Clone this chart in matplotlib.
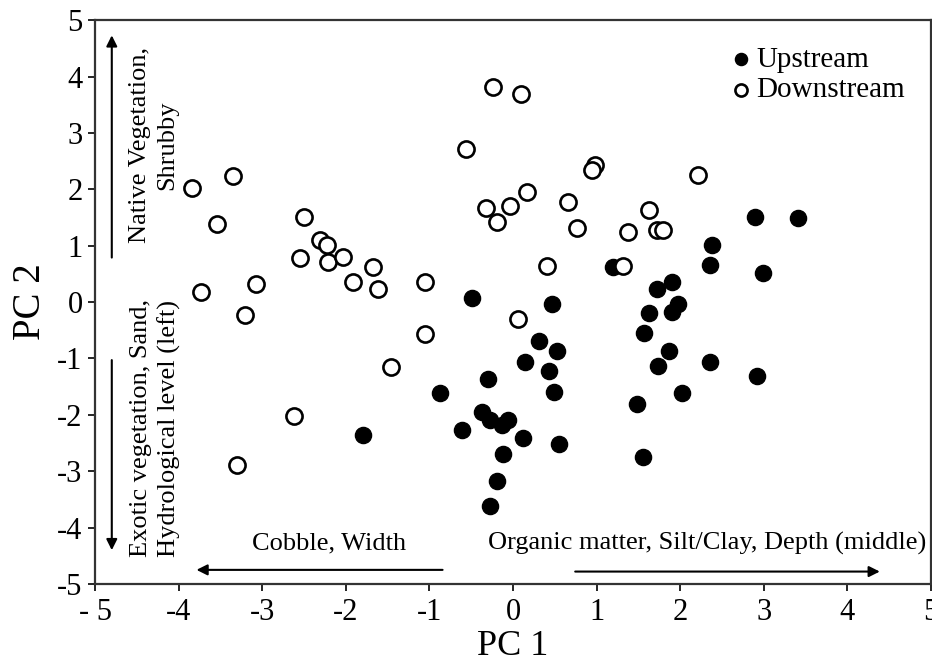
import matplotlib
matplotlib.use("Agg")
import matplotlib.pyplot as plt

plt.rcParams['font.family'] = ['Liberation Serif', 'DejaVu Serif']

# PCA scores
up_x = [-0.49, 2.89, 3.41, 2.38, 2.36, 2.99, 0.47, 1.20, 1.90, 1.72,
        1.97, 1.90, 1.63, 1.57, 0.31, 0.53, 0.14, 0.43, 0.49, -0.30,
        -0.87, 1.87, 1.73, 2.36, 2.92, 2.02, 1.48, 1.55, -0.37, -0.28,
        -0.13, -0.06, -0.61, 0.12, 0.55, -0.12, -0.19, -0.28, -1.79]
up_y = [0.07, 1.51, 1.49, 1.01, 0.66, 0.51, -0.04, 0.62, 0.35, 0.23,
        -0.04, -0.18, -0.20, -0.55, -0.69, -0.87, -1.06, -1.22, -1.60, -1.37,
        -1.61, -0.87, -1.13, -1.06, -1.31, -1.61, -1.81, -2.75, -1.95, -2.09,
        -2.18, -2.09, -2.27, -2.41, -2.52, -2.70, -3.17, -3.62, -2.36]

down_x = [-0.24, 0.10, -0.56, 0.98, 0.94, 2.21, 0.17, -0.04, -0.32, -0.19,
          0.66, 0.77, 1.63, 1.38, 1.72, 1.79, 0.41, 1.32, 0.06, -3.84,
          -3.35, -3.54, -2.50, -2.31, -2.22, -2.55, -2.21, -2.03, -1.67, -1.91,
          -1.61, -1.05, -3.73, -3.07, -3.21, -1.05, -1.46, -2.62, -3.30]
down_y = [3.81, 3.69, 2.71, 2.43, 2.34, 2.25, 1.95, 1.70, 1.67, 1.42,
          1.77, 1.31, 1.63, 1.24, 1.28, 1.28, 0.64, 0.64, -0.30, 2.02,
          2.23, 1.38, 1.51, 1.10, 1.01, 0.78, 0.71, 0.80, 0.62, 0.35,
          0.23, 0.35, 0.18, 0.32, -0.23, -0.57, -1.15, -2.02, -2.89]

ticks = [-5, -4, -3, -2, -1, 0, 1, 2, 3, 4, 5]
xtick_labels = ['- 5', '-4', '-3', '-2', '-1', '0', '1', '2', '3', '4', '5']
ytick_labels = ['-5', '-4', '-3', '-2', '-1', '0', '1', '2', '3', '4', '5']

fig = plt.figure(figsize=(9.32, 6.72), dpi=100)
ax = fig.add_axes([0.102, 0.131, 0.897, 0.839])

ax.scatter(up_x, up_y, s=135, c='black', edgecolors='black', linewidths=1,
           label='Upstream', zorder=3)
ax.scatter(down_x, down_y, s=135, c='white', edgecolors='black', linewidths=1.9,
           label='Downstream', zorder=4)

ax.set_xlim(-5, 5)
ax.set_ylim(-5, 5)
ax.set_xticks(ticks)
ax.set_xticklabels(xtick_labels)
ax.set_yticks(ticks)
ax.set_yticklabels(ytick_labels)
ax.tick_params(direction='out', length=5, width=1.2, labelsize=22, colors='black')
ax.tick_params(axis='x', pad=5)
ax.tick_params(axis='y', pad=4)
for sp in ax.spines.values():
    sp.set_linewidth(1.6)
    sp.set_color('#333333')

ax.set_xlabel('PC 1', fontsize=26, labelpad=2)
ax.set_ylabel('PC 2', fontsize=28, labelpad=6)

# loading direction arrows
arr = dict(arrowstyle='-|>', color='black', lw=1.5, mutation_scale=16)
ax.annotate('', xy=(-4.80, 4.78), xytext=(-4.80, 0.74), arrowprops=arr)
ax.annotate('', xy=(-4.80, -4.45), xytext=(-4.80, -0.98), arrowprops=arr)
ax.annotate('', xy=(-3.82, -4.75), xytext=(-0.81, -4.75), arrowprops=arr)
ax.annotate('', xy=(4.42, -4.78), xytext=(0.71, -4.78), arrowprops=arr)

ax.text(-4.30, 2.78, 'Native Vegetation,\nShrubby', rotation=90, fontsize=19,
        ha='center', va='center', multialignment='center', linespacing=1.3)
ax.text(-4.28, -4.52, 'Exotic vegetation, Sand,\nHydrological level (left)',
        rotation=90, fontsize=19, ha='center', va='bottom',
        multialignment='left', linespacing=1.3)
ax.text(-2.2, -4.28, 'Cobble, Width', fontsize=19, ha='center', va='center')
ax.text(2.32, -4.28, 'Organic matter, Silt/Clay, Depth (middle)', fontsize=19,
        ha='center', va='center')

ax.legend(loc='upper right', bbox_to_anchor=(0.99, 0.985), frameon=False,
          fontsize=21, handletextpad=0.1, labelspacing=0.15, markerscale=0.75,
          borderaxespad=0.2, handlelength=0.9)

fig.savefig('out.png', dpi=100)
